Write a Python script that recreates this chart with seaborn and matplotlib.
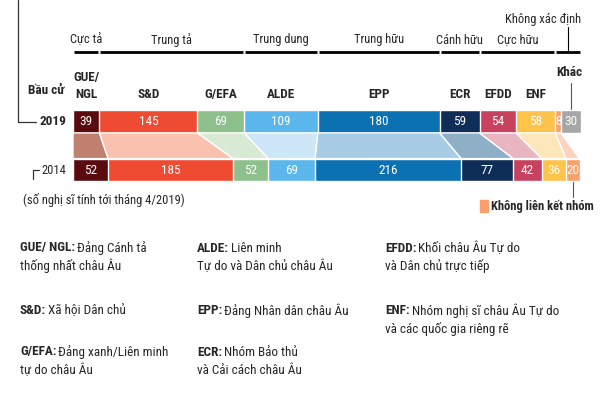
import numpy as np
import pandas as pd
import matplotlib.pyplot as plt
import seaborn as sns
from matplotlib.patches import Polygon

# Dữ liệu: số ghế theo nhóm nghị sĩ
parties = ['GUE/NGL', 'S&D', 'G/EFA', 'ALDE', 'EPP', 'ECR', 'EFDD', 'ENF', 'NI', 'Khác']
bar_labels = ['GUE/\nNGL', 'S&D', 'G/EFA', 'ALDE', 'EPP', 'ECR', 'EFDD', 'ENF', '', '']
seats_2019 = [39, 145, 69, 109, 180, 59, 54, 58, 8, 30]
seats_2014 = [52, 185, 52, 69, 216, 77, 42, 36, 20, 0]
years = ['2019', '2014']

bar_colors = ['#5a0b0e', '#ef4a32', '#8ec08b', '#5bb7eb', '#0b71b3',
              '#0e2d57', '#c8415f', '#fdc34a', '#f9a06c', '#a6a6a6']
link_colors = ['#c0806f', '#f9c1ae', '#d8e9d4', '#cde6f8', '#a8cce6',
               '#8eafc6', '#e8b5c1', '#fde6b9', '#fbd4bd', '#ffffff']

groups = ['Cực tả', 'Trung tả', 'Trung dung', 'Trung hữu', 'Cánh hữu', 'Cực hữu', 'Không xác định']
group_sizes = [1, 2, 1, 1, 1, 2, 2]

legend_heads = ['GUE/ NGL:', 'S&D:', 'G/EFA:', 'ALDE:', 'EPP:', 'ECR:', 'EFDD:', 'ENF:']
legend_texts = ['Đảng Cánh tả\nthống nhất châu Âu', 'Xã hội Dân chủ',
                'Đảng xanh/Liên minh\ntự do châu Âu', 'Liên minh\nTự do và Dân chủ châu Âu',
                'Đảng Nhân dân châu Âu', 'Nhóm Bảo thủ\nvà Cải cách châu Âu',
                'Khối châu Âu Tự do\nvà Dân chủ trực tiếp', 'Nhóm nghị sĩ châu Âu Tự do\nvà các quốc gia riêng rẽ']

sns.set_style('white')
plt.rcParams['font.family'] = ['Roboto Condensed', 'Liberation Sans Narrow', 'Roboto', 'DejaVu Sans']
plt.rcParams['font.stretch'] = 'condensed'

W, H = 600, 400
fig = plt.figure(figsize=(6, 4), dpi=100)
ax = fig.add_axes([73 / W, 0, 508 / W, 1])


def py(p):
    # đổi toạ độ pixel dọc sang đơn vị trục y
    return (p - 121.5) / 48.5


def fx(p):
    return p / W


def fy(p):
    return 1 - p / H


cum19 = np.concatenate([[0], np.cumsum(seats_2019)])
cum14 = np.concatenate([[0], np.cumsum(seats_2014)])
bh = 0.47

# Thanh xếp chồng: vẽ từ nhóm cuối lên nhóm đầu
for i in reversed(range(len(parties))):
    d = pd.DataFrame({'year': years, 'end': [cum19[i + 1], cum14[i + 1]]})
    sns.barplot(data=d, x='end', y='year', orient='h', color=bar_colors[i],
                saturation=1, width=bh, edgecolor='white', linewidth=1, ax=ax)

# Dải nối giữa 2019 và 2014
for i in range(len(parties)):
    if seats_2019[i] == 0 or seats_2014[i] == 0:
        continue
    poly = Polygon([(cum19[i], bh / 2), (cum19[i + 1], bh / 2),
                    (cum14[i + 1], 1 - bh / 2), (cum14[i], 1 - bh / 2)],
                   closed=True, facecolor=link_colors[i], edgecolor='white', lw=1)
    ax.add_patch(poly)

# Số ghế trong thanh
for row, (vals, cum) in enumerate([(seats_2019, cum19), (seats_2014, cum14)]):
    for i, v in enumerate(vals):
        if v == 0:
            continue
        ax.text((cum[i] + cum[i + 1]) / 2, row, str(v), color='white',
                ha='center', va='center', fontsize=9.5)

ax.set_xlim(0, cum19[-1])
ax.set_ylim(py(H), py(0))
ax.set_axis_off()

# Nhãn nhóm nghị sĩ phía trên
for i, lab in enumerate(bar_labels):
    if lab:
        ax.text((cum19[i] + cum19[i + 1]) / 2, py(101), lab, ha='center', va='bottom',
                fontsize=9.5, weight='bold', linespacing=1.45)
xk = (cum19[-2] + cum19[-1]) / 2
ax.text(xk - 2, py(72), 'Khác', ha='center', va='center', fontsize=9.5, weight='bold')
ax.plot([xk, xk], [py(83), py(109)], color='#555555', lw=0.8, clip_on=False)

# Khuynh hướng chính trị + gạch chân
start = 0
for g, n in zip(groups, group_sizes):
    x0, x1 = cum19[start], cum19[start + n]
    ax.plot([x0 + 1.5, x1 - 1.5], [py(52.5), py(52.5)], color='black', lw=2,
            solid_capstyle='butt', clip_on=False)
    if g == 'Không xác định':
        xm = (x0 + x1) / 2
        ax.plot([xm, xm], [py(27), py(52)], color='black', lw=0.8, clip_on=False)
        ax.text(x1, py(20), g, ha='right', va='center', fontsize=9)
    else:
        ax.text((x0 + x1) / 2, py(40), g, ha='center', va='center', fontsize=9)
    start += n

# Nhãn năm bầu cử bên trái
fig.text(fx(65), fy(90), 'Bầu cử', ha='right', va='center', fontsize=9.5, weight='bold')
fig.text(fx(66), fy(121.5), '2019', ha='right', va='center', fontsize=9.5, weight='bold')
fig.text(fx(66), fy(170), '2014', ha='right', va='center', fontsize=9)
fig.add_artist(plt.Line2D([fx(18), fx(18), fx(36)], [fy(0), fy(121.5), fy(121.5)],
                          color='#333333', lw=0.9))
fig.add_artist(plt.Line2D([fx(39), fx(33), fx(33)], [fy(170), fy(170), fy(179)],
                          color='#333333', lw=0.9))
fig.text(fx(23), fy(200), '(số nghị sĩ tính tới tháng 4/2019)', ha='left', va='center',
         fontsize=9)

# Không liên kết nhóm
xn = (cum14[-3] + cum14[-2]) / 2
ax.plot([xn, xn], [py(182), py(197)], color='#555555', lw=0.8, clip_on=False)
fig.patches.append(plt.Rectangle((fx(480), fy(212)), 8 / W, 12 / H, color=bar_colors[8],
                                 transform=fig.transFigure, figure=fig))
fig.text(fx(491), fy(206), 'Không liên kết nhóm', ha='left', va='center', fontsize=9,
         weight='bold')

# Chú giải ở dưới
col_x = [20, 197, 385]
row_y = [248, 311, 352]
for k, (head, txt) in enumerate(zip(legend_heads, legend_texts)):
    x, y = col_x[k // 3], row_y[k % 3]
    lines = txt.split('\n')
    t = fig.text(fx(x), fy(y), head, ha='left', va='center', fontsize=9.5, weight='bold')
    fig.add_artist(plt.Annotation(lines[0], xy=(1, 0.5), xycoords=t, xytext=(2, 0),
                                  textcoords='offset pixels', ha='left', va='center',
                                  fontsize=9.5))
    for j, ln in enumerate(lines[1:]):
        fig.text(fx(x), fy(y + 18 * (j + 1)), ln, ha='left', va='center', fontsize=9.5)

fig.savefig('out.png', dpi=100)
